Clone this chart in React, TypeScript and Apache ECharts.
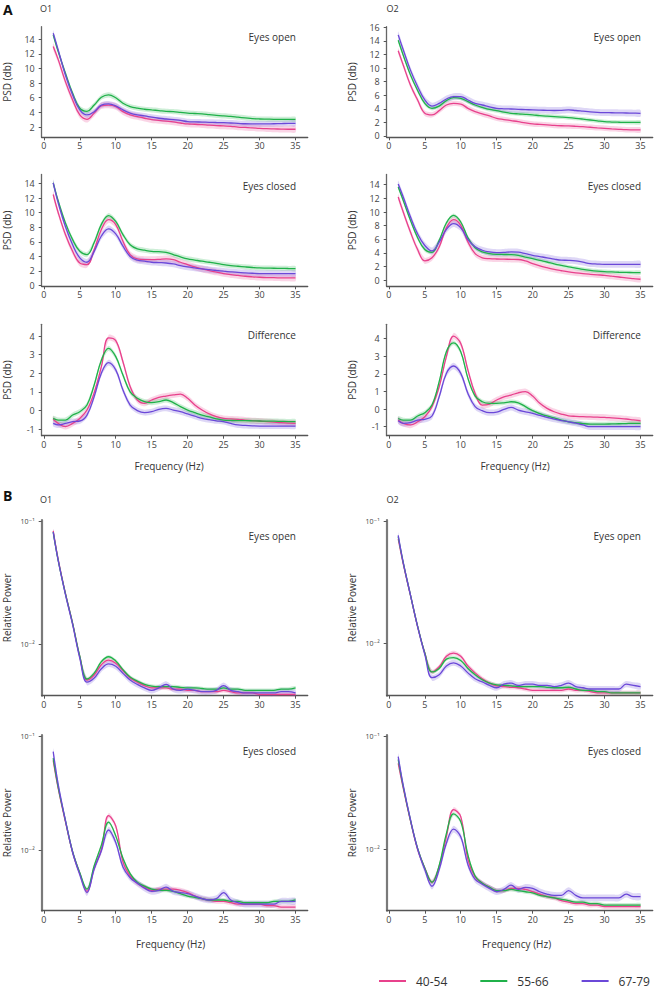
import React, { useEffect, useRef } from "react";
import * as echarts from "echarts";

// ---------- data ----------
const FREQ = [1.3, 2, 3, 4, 5, 6, 7, 8, 9, 10, 11, 12, 13, 14, 15, 16, 17, 18, 19, 20, 21, 22, 23, 24, 25, 26, 27, 28, 29, 30, 31, 32, 33, 34, 35];
const X_TICKS = [0, 5, 10, 15, 20, 25, 30, 35];
const GROUPS = ["40-54", "55-66", "67-79"];

// A: PSD (db), O1 eyes open
const A_O1_OPEN_4054 = [13.0, 11.2, 8.2, 5.7, 3.66, 3.06, 3.9, 4.9, 5.0, 4.8, 4.1, 3.66, 3.43, 3.2, 3.0, 2.9, 2.8, 2.7, 2.55, 2.42, 2.38, 2.32, 2.25, 2.2, 2.15, 2.1, 2.0, 1.95, 1.9, 1.83, 1.78, 1.75, 1.72, 1.7, 1.7];
const A_O1_OPEN_5566 = [14.6, 12.3, 9.35, 6.6, 4.57, 4.15, 5.0, 6.07, 6.4, 6.0, 5.25, 4.8, 4.57, 4.43, 4.34, 4.25, 4.15, 4.1, 4.0, 3.9, 3.85, 3.8, 3.7, 3.6, 3.52, 3.45, 3.35, 3.25, 3.15, 3.1, 3.08, 3.06, 3.06, 3.06, 3.06];
const A_O1_OPEN_6779 = [14.8, 12.5, 9.1, 6.4, 4.34, 3.65, 4.1, 5.0, 5.16, 4.9, 4.34, 3.9, 3.65, 3.52, 3.34, 3.2, 3.1, 3.0, 2.9, 2.74, 2.7, 2.68, 2.65, 2.62, 2.6, 2.55, 2.5, 2.45, 2.43, 2.42, 2.43, 2.45, 2.47, 2.5, 2.5];
const A_O1_OPEN_SE = [0.45, 0.35, 0.4];

// A: O2 eyes open
const A_O2_OPEN_4054 = [12.56, 10.45, 7.5, 5.3, 3.34, 3.1, 3.73, 4.56, 4.8, 4.7, 4.07, 3.58, 3.24, 2.94, 2.6, 2.42, 2.26, 2.1, 1.92, 1.77, 1.7, 1.63, 1.55, 1.5, 1.47, 1.42, 1.36, 1.28, 1.2, 1.13, 1.05, 0.98, 0.92, 0.9, 0.88];
const A_O2_OPEN_5566 = [14.1, 11.9, 9.0, 6.7, 4.8, 4.07, 4.4, 5.2, 5.65, 5.55, 5.05, 4.56, 4.2, 3.9, 3.73, 3.5, 3.34, 3.25, 3.18, 3.1, 3.0, 2.92, 2.85, 2.78, 2.7, 2.6, 2.48, 2.35, 2.22, 2.1, 2.05, 2.02, 2.0, 2.0, 2.0];
const A_O2_OPEN_6779 = [14.9, 12.7, 9.7, 7.3, 5.3, 4.4, 4.8, 5.45, 5.8, 5.8, 5.3, 4.8, 4.56, 4.3, 4.07, 4.0, 3.97, 3.92, 3.88, 3.83, 3.8, 3.78, 3.75, 3.78, 3.83, 3.75, 3.65, 3.55, 3.48, 3.44, 3.42, 3.4, 3.38, 3.36, 3.34];
const A_O2_OPEN_SE = [0.4, 0.3, 0.5];

// A: O1 eyes closed
const A_O1_CLOSED_4054 = [12.5, 10.0, 7.0, 4.7, 3.1, 2.88, 4.9, 7.7, 9.05, 8.37, 6.08, 4.25, 3.66, 3.57, 3.57, 3.6, 3.66, 3.57, 3.2, 2.88, 2.55, 2.29, 2.05, 1.85, 1.65, 1.5, 1.4, 1.28, 1.2, 1.14, 1.1, 1.08, 1.06, 1.05, 1.05];
const A_O1_CLOSED_5566 = [14.1, 11.6, 8.6, 6.3, 4.7, 4.25, 5.9, 8.4, 9.6, 8.8, 7.0, 5.6, 5.03, 4.85, 4.7, 4.65, 4.57, 4.25, 3.93, 3.66, 3.5, 3.34, 3.2, 3.05, 2.88, 2.75, 2.65, 2.56, 2.48, 2.42, 2.4, 2.38, 2.36, 2.34, 2.33];
const A_O1_CLOSED_6779 = [14.1, 11.35, 8.1, 5.6, 3.8, 3.2, 4.7, 6.8, 7.78, 7.1, 5.4, 4.0, 3.48, 3.34, 3.2, 3.15, 3.1, 2.97, 2.74, 2.56, 2.42, 2.29, 2.18, 2.07, 1.97, 1.88, 1.8, 1.74, 1.69, 1.65, 1.65, 1.65, 1.65, 1.65, 1.65];
const A_O1_CLOSED_SE = [0.45, 0.35, 0.45];

// A: O2 eyes closed
const A_O2_CLOSED_4054 = [12.2, 10.0, 7.07, 4.5, 2.85, 3.3, 4.88, 7.7, 8.88, 8.05, 5.6, 3.9, 3.3, 3.17, 3.12, 3.1, 3.07, 3.05, 2.83, 2.44, 2.12, 1.85, 1.6, 1.4, 1.22, 1.08, 0.97, 0.88, 0.8, 0.73, 0.6, 0.48, 0.35, 0.25, 0.15];
const A_O2_CLOSED_5566 = [13.66, 11.7, 8.8, 6.24, 4.5, 4.1, 5.85, 8.4, 9.5, 8.54, 6.24, 4.78, 4.15, 3.9, 3.8, 3.78, 3.76, 3.66, 3.41, 3.17, 2.92, 2.68, 2.42, 2.18, 1.95, 1.78, 1.6, 1.46, 1.35, 1.27, 1.22, 1.18, 1.15, 1.13, 1.12];
const A_O2_CLOSED_6779 = [14.1, 12.2, 9.3, 6.8, 5.1, 4.3, 5.6, 7.46, 8.3, 7.7, 5.95, 4.9, 4.4, 4.15, 4.05, 4.08, 4.15, 4.12, 3.9, 3.66, 3.48, 3.3, 3.1, 2.95, 2.93, 2.85, 2.65, 2.44, 2.38, 2.34, 2.34, 2.34, 2.34, 2.34, 2.34];
const A_O2_CLOSED_SE = [0.45, 0.3, 0.5];

// A: O1 difference
const A_O1_DIFF_4054 = [-0.48, -0.7, -0.87, -0.7, -0.43, 0.02, 0.95, 2.35, 3.9, 3.75, 2.62, 1.28, 0.56, 0.38, 0.56, 0.7, 0.77, 0.83, 0.88, 0.65, 0.29, 0.02, -0.19, -0.34, -0.43, -0.46, -0.48, -0.52, -0.55, -0.57, -0.6, -0.63, -0.66, -0.68, -0.7];
const A_O1_DIFF_5566 = [-0.43, -0.52, -0.52, -0.25, -0.07, 0.29, 1.37, 2.7, 3.34, 2.89, 1.9, 1.0, 0.65, 0.47, 0.42, 0.47, 0.56, 0.42, 0.2, 0.02, -0.12, -0.25, -0.35, -0.45, -0.52, -0.54, -0.55, -0.55, -0.56, -0.57, -0.58, -0.58, -0.59, -0.6, -0.6];
const A_O1_DIFF_6779 = [-0.7, -0.78, -0.7, -0.6, -0.57, -0.25, 0.74, 2.0, 2.57, 2.18, 1.1, 0.29, -0.01, -0.12, -0.07, 0.06, 0.11, 0.02, -0.07, -0.19, -0.31, -0.43, -0.5, -0.56, -0.6, -0.7, -0.78, -0.81, -0.83, -0.84, -0.84, -0.84, -0.84, -0.84, -0.84];
const A_O1_DIFF_SE = [0.16, 0.14, 0.16];

// A: O2 difference
const A_O2_DIFF_4054 = [-0.62, -0.81, -0.9, -0.72, -0.43, 0.14, 1.27, 2.98, 4.15, 3.73, 2.22, 0.89, 0.23, 0.29, 0.52, 0.7, 0.8, 0.93, 0.99, 0.74, 0.33, 0.04, -0.15, -0.28, -0.38, -0.41, -0.43, -0.44, -0.46, -0.47, -0.5, -0.53, -0.56, -0.61, -0.66];
const A_O2_DIFF_5566 = [-0.53, -0.62, -0.62, -0.39, -0.2, 0.23, 1.56, 3.26, 3.77, 3.26, 1.75, 0.74, 0.42, 0.33, 0.33, 0.36, 0.42, 0.36, 0.14, -0.09, -0.25, -0.39, -0.5, -0.62, -0.72, -0.77, -0.82, -0.85, -0.85, -0.85, -0.84, -0.83, -0.82, -0.81, -0.81];
const A_O2_DIFF_6779 = [-0.66, -0.81, -0.77, -0.62, -0.58, -0.39, 0.7, 2.03, 2.45, 2.03, 0.89, 0.14, -0.09, -0.2, -0.17, -0.02, 0.1, -0.05, -0.15, -0.24, -0.36, -0.47, -0.57, -0.65, -0.72, -0.8, -0.9, -1.0, -1.0, -1.0, -1.0, -1.0, -1.0, -1.0, -1.0];
const A_O2_DIFF_SE = [0.18, 0.13, 0.18];

// B: relative power, O1 eyes open
const B_O1_OPEN_4054 = [0.084, 0.049, 0.026, 0.0148, 0.0079, 0.0051, 0.0056, 0.0068, 0.0074, 0.007, 0.0061, 0.0053, 0.0049, 0.0046, 0.0044, 0.0044, 0.0044, 0.0043, 0.0043, 0.0042, 0.0042, 0.0041, 0.0041, 0.0041, 0.0042, 0.0041, 0.004, 0.004, 0.004, 0.0039, 0.0039, 0.0039, 0.0039, 0.0039, 0.0039];
const B_O1_OPEN_5566 = [0.082, 0.048, 0.0258, 0.0148, 0.008, 0.0052, 0.0058, 0.0072, 0.0079, 0.0073, 0.0062, 0.0054, 0.005, 0.0047, 0.00455, 0.0045, 0.0045, 0.0045, 0.00445, 0.0044, 0.0044, 0.00435, 0.0043, 0.0043, 0.0044, 0.0043, 0.0043, 0.0042, 0.0042, 0.0042, 0.0042, 0.0042, 0.0043, 0.0043, 0.0044];
const B_O1_OPEN_6779 = [0.082, 0.048, 0.0255, 0.0145, 0.0077, 0.0049, 0.0053, 0.0063, 0.0069, 0.0066, 0.0058, 0.0051, 0.0047, 0.0044, 0.0042, 0.0044, 0.0047, 0.0043, 0.0042, 0.0043, 0.0042, 0.0041, 0.0041, 0.0042, 0.0046, 0.0042, 0.0041, 0.004, 0.004, 0.004, 0.004, 0.004, 0.0041, 0.0041, 0.004];
const B_O1_OPEN_SE = [0.04, 0.035, 0.06];

// B: O2 eyes open
const B_O2_OPEN_4054 = [0.072, 0.045, 0.0248, 0.0137, 0.0083, 0.0058, 0.0064, 0.0078, 0.0083, 0.0078, 0.0065, 0.0057, 0.0051, 0.0047, 0.00446, 0.0044, 0.00434, 0.0043, 0.0042, 0.0041, 0.0041, 0.0041, 0.0041, 0.0041, 0.0042, 0.0041, 0.0041, 0.004, 0.0039, 0.0039, 0.0039, 0.0039, 0.0039, 0.0039, 0.0039];
const B_O2_OPEN_5566 = [0.075, 0.046, 0.025, 0.0138, 0.0083, 0.0058, 0.0062, 0.0074, 0.0076, 0.0072, 0.0062, 0.0055, 0.005, 0.0047, 0.00454, 0.0045, 0.00446, 0.0044, 0.0044, 0.0044, 0.0044, 0.00434, 0.0043, 0.0043, 0.00434, 0.0042, 0.0041, 0.0041, 0.004, 0.004, 0.0039, 0.0039, 0.0039, 0.0039, 0.0039];
const B_O2_OPEN_6779 = [0.077, 0.046, 0.025, 0.0137, 0.0081, 0.0052, 0.0055, 0.0065, 0.0069, 0.0065, 0.0057, 0.0051, 0.0048, 0.0045, 0.0043, 0.0046, 0.0047, 0.0045, 0.0046, 0.0046, 0.0045, 0.0045, 0.0044, 0.0045, 0.0047, 0.0044, 0.0043, 0.0042, 0.0042, 0.0042, 0.0042, 0.0042, 0.0046, 0.0045, 0.0044];
const B_O2_OPEN_SE = [0.045, 0.035, 0.06];

// B: O1 eyes closed
const B_O1_CLOSED_4054 = [0.062, 0.035, 0.018, 0.0097, 0.0063, 0.0044, 0.007, 0.0102, 0.0203, 0.0165, 0.008, 0.006, 0.0052, 0.0048, 0.0045, 0.0046, 0.0046, 0.0046, 0.0045, 0.0043, 0.004, 0.0038, 0.0037, 0.0036, 0.0036, 0.0035, 0.0034, 0.0034, 0.0034, 0.0034, 0.0033, 0.0033, 0.0032, 0.0032, 0.0032];
const B_O1_CLOSED_5566 = [0.065, 0.036, 0.0184, 0.0098, 0.0064, 0.0046, 0.0074, 0.0112, 0.0178, 0.0135, 0.0086, 0.0063, 0.0053, 0.0049, 0.0046, 0.0045, 0.0045, 0.0044, 0.0042, 0.004, 0.0039, 0.0038, 0.0037, 0.0037, 0.0037, 0.0036, 0.0036, 0.0035, 0.0035, 0.0035, 0.0035, 0.0036, 0.0036, 0.0036, 0.0037];
const B_O1_CLOSED_6779 = [0.074, 0.038, 0.0185, 0.0097, 0.0062, 0.0043, 0.0069, 0.01, 0.0152, 0.0118, 0.0072, 0.0058, 0.0052, 0.0047, 0.0044, 0.0045, 0.0048, 0.0044, 0.0043, 0.0042, 0.004, 0.0038, 0.0037, 0.0038, 0.0043, 0.0037, 0.0035, 0.0034, 0.0034, 0.0034, 0.0034, 0.0034, 0.0036, 0.0036, 0.0036];
const B_O1_CLOSED_SE = [0.05, 0.04, 0.07];

// B: O2 eyes closed
const B_O2_CLOSED_4054 = [0.058, 0.035, 0.018, 0.01, 0.0068, 0.0051, 0.007, 0.0129, 0.0225, 0.0195, 0.0081, 0.0057, 0.005, 0.0046, 0.0043, 0.0043, 0.0045, 0.0045, 0.0044, 0.0042, 0.004, 0.0038, 0.0037, 0.0035, 0.0034, 0.0033, 0.0033, 0.0032, 0.0032, 0.0031, 0.0031, 0.0031, 0.0031, 0.0031, 0.0031];
const B_O2_CLOSED_5566 = [0.063, 0.036, 0.0182, 0.0102, 0.0068, 0.0051, 0.0072, 0.0138, 0.0206, 0.0176, 0.0089, 0.0058, 0.005, 0.0046, 0.0043, 0.0043, 0.0044, 0.0043, 0.0042, 0.0041, 0.0039, 0.0038, 0.0037, 0.0036, 0.0035, 0.0034, 0.0034, 0.0033, 0.0033, 0.0032, 0.0032, 0.0032, 0.0032, 0.0032, 0.0032];
const B_O2_CLOSED_6779 = [0.0665, 0.037, 0.0184, 0.0101, 0.0066, 0.0047, 0.0066, 0.0113, 0.0151, 0.0129, 0.0073, 0.0054, 0.0049, 0.0045, 0.0042, 0.0044, 0.0048, 0.0044, 0.0046, 0.0045, 0.0042, 0.004, 0.0039, 0.0039, 0.0043, 0.0039, 0.0037, 0.0037, 0.0037, 0.0037, 0.0037, 0.0037, 0.004, 0.0038, 0.0038];
const B_O2_CLOSED_SE = [0.05, 0.04, 0.07];

// tick labels
const TICKS_2_14 = [2, 4, 6, 8, 10, 12, 14];
const TICKS_0_16 = [0, 2, 4, 6, 8, 10, 12, 14, 16];
const TICKS_0_14 = [0, 2, 4, 6, 8, 10, 12, 14];
const TICKS_DIFF = [-1, 0, 1, 2, 3, 4];
const TICKS_LOG = [0.01, 0.1];

// ---------- styles / layout ----------
const COLORS = ["#e8418c", "#20b14a", "#6b48d8"];
const FONT = "'Open Sans', 'DejaVu Sans', sans-serif";
const COL_LEFT = [41.7, 386.7];
const PLOT_W = 266;
const ROW_TOP = [26.7, 174.5, 324.3, 520, 735];
const ROW_H = [110.6, 111.8, 111.4, 175.7, 175.7];
const LABEL_Y = [37.3, 185.7, 335, 536, 750.7];

type Panel = {
  row: number;
  col: number;
  label: string;
  yName: string;
  log: boolean;
  range: number[];
  ticks: number[];
  data: number[][];
  se: number[];
};

const PANELS: Panel[] = [
  { row: 0, col: 0, label: "Eyes open", yName: "PSD (db)", log: false, range: [0.6, 15.7], ticks: TICKS_2_14, data: [A_O1_OPEN_4054, A_O1_OPEN_5566, A_O1_OPEN_6779], se: A_O1_OPEN_SE },
  { row: 0, col: 1, label: "Eyes open", yName: "PSD (db)", log: false, range: [-0.2, 16.1], ticks: TICKS_0_16, data: [A_O2_OPEN_4054, A_O2_OPEN_5566, A_O2_OPEN_6779], se: A_O2_OPEN_SE },
  { row: 1, col: 0, label: "Eyes closed", yName: "PSD (db)", log: false, range: [-0.1, 15.24], ticks: TICKS_0_14, data: [A_O1_CLOSED_4054, A_O1_CLOSED_5566, A_O1_CLOSED_6779], se: A_O1_CLOSED_SE },
  { row: 1, col: 1, label: "Eyes closed", yName: "PSD (db)", log: false, range: [-0.88, 15.5], ticks: TICKS_0_14, data: [A_O2_CLOSED_4054, A_O2_CLOSED_5566, A_O2_CLOSED_6779], se: A_O2_CLOSED_SE },
  { row: 2, col: 0, label: "Difference", yName: "PSD (db)", log: false, range: [-1.36, 4.63], ticks: TICKS_DIFF, data: [A_O1_DIFF_4054, A_O1_DIFF_5566, A_O1_DIFF_6779], se: A_O1_DIFF_SE },
  { row: 2, col: 1, label: "Difference", yName: "PSD (db)", log: false, range: [-1.51, 4.82], ticks: TICKS_DIFF, data: [A_O2_DIFF_4054, A_O2_DIFF_5566, A_O2_DIFF_6779], se: A_O2_DIFF_SE },
  { row: 3, col: 0, label: "Eyes open", yName: "Relative Power", log: true, range: [0.0038, 0.103], ticks: TICKS_LOG, data: [B_O1_OPEN_4054, B_O1_OPEN_5566, B_O1_OPEN_6779], se: B_O1_OPEN_SE },
  { row: 3, col: 1, label: "Eyes open", yName: "Relative Power", log: true, range: [0.0037, 0.103], ticks: TICKS_LOG, data: [B_O2_OPEN_4054, B_O2_OPEN_5566, B_O2_OPEN_6779], se: B_O2_OPEN_SE },
  { row: 4, col: 0, label: "Eyes closed", yName: "Relative Power", log: true, range: [0.00298, 0.1035], ticks: TICKS_LOG, data: [B_O1_CLOSED_4054, B_O1_CLOSED_5566, B_O1_CLOSED_6779], se: B_O1_CLOSED_SE },
  { row: 4, col: 1, label: "Eyes closed", yName: "Relative Power", log: true, range: [0.00285, 0.1035], ticks: TICKS_LOG, data: [B_O2_CLOSED_4054, B_O2_CLOSED_5566, B_O2_CLOSED_6779], se: B_O2_CLOSED_SE },
];

function logLabel(v: number) {
  return v > 0.05 ? "10\u207B\u00B9" : "10\u207B\u00B2";
}

function text(x: number, y: number, t: string, opts: any = {}) {
  return {
    type: "text",
    x,
    y,
    rotation: opts.rotation || 0,
    silent: true,
    style: {
      text: t,
      fill: opts.color || "#333",
      fontSize: opts.size || 10,
      fontWeight: opts.weight || "normal",
      fontFamily: FONT,
      align: opts.align || "left",
      verticalAlign: "middle",
    },
  };
}

function buildOption() {
  const grid: any[] = [];
  const xAxis: any[] = [];
  const yAxis: any[] = [];
  const series: any[] = [];
  const elements: any[] = [];

  PANELS.forEach((p, i) => {
    const left = COL_LEFT[p.col];
    const top = ROW_TOP[p.row];
    const height = ROW_H[p.row];
    grid.push({ left, top, width: PLOT_W, height, containLabel: false });
    const axisColor = p.log ? "#7a7a7a" : "#666";
    xAxis.push({
      type: "value",
      gridIndex: i,
      min: -0.3,
      max: 36.7,
      axisLine: { show: true, onZero: false, lineStyle: { color: "#555", width: 1.3 } },
      axisTick: { show: true, length: 3, customValues: X_TICKS, lineStyle: { color: "#555", width: 1 } },
      axisLabel: { customValues: X_TICKS, fontSize: 9, color: "#444", margin: 4, fontFamily: FONT },
      splitLine: { show: false },
    });
    yAxis.push({
      type: p.log ? "log" : "value",
      gridIndex: i,
      min: p.range[0],
      max: p.range[1],
      axisLine: { show: true, onZero: false, lineStyle: { color: axisColor, width: p.log ? 2.2 : 1.3 } },
      axisTick: { show: true, length: 3, customValues: p.ticks, lineStyle: { color: "#555", width: 1 } },
      axisLabel: {
        customValues: p.ticks,
        fontSize: p.log ? 7 : 9,
        color: "#444",
        margin: 7,
        fontFamily: FONT,
        formatter: p.log ? (v: number) => logLabel(v) : (v: number) => String(v),
      },
      splitLine: { show: false },
    });

    // confidence bands (drawn through the axes' scales via api.coord)
    p.data.forEach((vals, g) => {
      const e = p.se[g];
      const lo = vals.map((v) => (p.log ? v / (1 + e) : v - e));
      const hi = vals.map((v) => (p.log ? v * (1 + e) : v + e));
      series.push({
        type: "custom",
        name: "band" + i + "_" + g,
        xAxisIndex: i,
        yAxisIndex: i,
        silent: true,
        z: 1,
        data: [[FREQ[0], vals[0]]],
        renderItem: (_params: any, api: any) => {
          const upper = FREQ.map((f, k) => api.coord([f, hi[k]]));
          const lower = FREQ.map((f, k) => api.coord([f, lo[k]])).reverse();
          return {
            type: "polygon",
            shape: { points: upper.concat(lower), smooth: 0.25 },
            style: { fill: COLORS[g], opacity: 0.22 },
          };
        },
      });
    });
    p.data.forEach((vals, g) => {
      series.push({
        type: "line",
        name: GROUPS[g],
        xAxisIndex: i,
        yAxisIndex: i,
        data: FREQ.map((f, k) => [f, vals[k]]),
        smooth: 0.4,
        symbol: "none",
        showSymbol: false,
        lineStyle: { color: COLORS[g], width: 1.3 },
        itemStyle: { color: COLORS[g] },
        z: 3,
      });
    });

    // panel label
    elements.push(text(left + 254.3, LABEL_Y[p.row], p.label, { align: "right", size: 10 }));
    // y axis name
    elements.push(
      text(left - 34.5, top + height / 2, p.yName, { align: "center", size: 10, rotation: Math.PI / 2 })
    );
  });

  // section & column titles
  elements.push(text(3, 9.5, "A", { size: 14, weight: "bold", color: "#111" }));
  elements.push(text(40, 8.3, "O1", { size: 9 }));
  elements.push(text(386.5, 8.3, "O2", { size: 9 }));
  elements.push(text(3, 495, "B", { size: 14, weight: "bold", color: "#111" }));
  elements.push(text(40, 499, "O1", { size: 9 }));
  elements.push(text(386.5, 499, "O2", { size: 9 }));
  // x-axis titles
  elements.push(text(169, 466, "Frequency (Hz)", { align: "center", size: 10 }));
  elements.push(text(515, 466, "Frequency (Hz)", { align: "center", size: 10 }));
  elements.push(text(170.5, 944, "Frequency (Hz)", { align: "center", size: 10 }));
  elements.push(text(516.5, 944, "Frequency (Hz)", { align: "center", size: 10 }));

  return {
    animation: false,
    backgroundColor: "#ffffff",
    grid,
    xAxis,
    yAxis,
    series,
    legend: {
      data: GROUPS,
      left: 379,
      top: 975,
      width: 278,
      padding: 0,
      itemWidth: 27,
      itemHeight: 2,
      itemGap: 33,
      icon: "rect",
      selectedMode: false,
      textStyle: { fontSize: 12, color: "#333", fontFamily: FONT, padding: [0, 0, 0, 5] },
    },
    graphic: { elements },
  };
}

export default function App() {
  const ref = useRef<HTMLDivElement>(null);
  useEffect(() => {
    if (!ref.current) return;
    const chart = echarts.init(ref.current, undefined, { renderer: "svg" });
    chart.setOption(buildOption() as any);
    return () => chart.dispose();
  }, []);
  return (
    <div
      ref={ref}
      style={{ position: "absolute", left: 0, top: 0, width: 657, height: 991, background: "#fff" }}
    />
  );
}
